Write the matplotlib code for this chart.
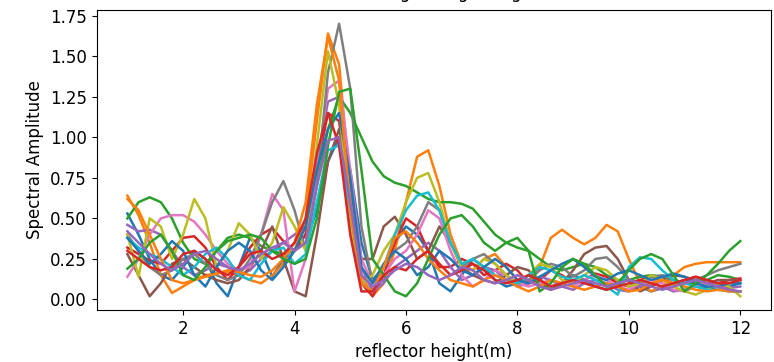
import numpy as np
import matplotlib
matplotlib.use("Agg")
import matplotlib.pyplot as plt

# reflector height grid (m)
heights = np.linspace(1.0, 12.0, 56)

# spectral amplitude per track
amp_blue = [0.53,0.40,0.25,0.15,0.12,0.20,0.30,0.25,0.10,0.02, 0.20,0.38,0.30,0.14,0.25,0.30,0.35,0.55,0.85,1.00,
            0.80,0.35,0.12,0.20,0.35,0.45,0.40,0.30,0.10,0.05, 0.15,0.25,0.20,0.12,0.08,0.10,0.15,0.12,0.08,0.10,
            0.15,0.12,0.08,0.06,0.10,0.12,0.08,0.05,0.07,0.10, 0.12,0.10,0.07,0.06,0.08,0.10]
amp_orange = [0.64,0.52,0.35,0.15,0.04,0.08,0.12,0.15,0.16,0.17, 0.15,0.12,0.10,0.15,0.22,0.30,0.50,1.10,1.64,1.45,
              0.70,0.15,0.02,0.10,0.30,0.60,0.88,0.92,0.70,0.40, 0.22,0.18,0.25,0.28,0.20,0.12,0.10,0.20,0.38,0.43,
              0.38,0.34,0.38,0.46,0.42,0.25,0.10,0.05,0.08,0.15, 0.20,0.22,0.23,0.23,0.23,0.23]
amp_green = [0.50,0.60,0.63,0.60,0.50,0.35,0.25,0.22,0.30,0.38, 0.40,0.38,0.33,0.30,0.28,0.30,0.40,0.70,1.05,1.25,
             1.15,1.00,0.85,0.76,0.72,0.70,0.66,0.62,0.60,0.60, 0.59,0.56,0.48,0.40,0.35,0.32,0.30,0.25,0.20,0.18,
             0.20,0.22,0.20,0.15,0.12,0.12,0.14,0.15,0.14,0.12, 0.10,0.10,0.12,0.15,0.14,0.12]
amp_red = [0.32,0.28,0.24,0.22,0.30,0.38,0.39,0.32,0.20,0.12, 0.20,0.32,0.40,0.44,0.36,0.30,0.40,0.80,1.15,1.10,
           0.55,0.10,0.02,0.15,0.35,0.50,0.45,0.30,0.20,0.20, 0.25,0.22,0.15,0.18,0.22,0.18,0.10,0.12,0.18,0.15,
           0.10,0.12,0.16,0.14,0.10,0.08,0.12,0.14,0.12,0.10, 0.12,0.14,0.12,0.10,0.12,0.13]
amp_purple = [0.46,0.42,0.43,0.40,0.30,0.20,0.15,0.18,0.22,0.20, 0.15,0.18,0.25,0.30,0.35,0.40,0.45,0.85,1.22,1.25,
              0.75,0.20,0.05,0.10,0.20,0.25,0.30,0.35,0.30,0.20, 0.12,0.15,0.20,0.18,0.12,0.08,0.10,0.14,0.12,0.08,
              0.06,0.10,0.12,0.10,0.06,0.05,0.08,0.10,0.08,0.05, 0.06,0.08,0.10,0.09,0.07,0.08]
amp_brown = [0.28,0.15,0.02,0.10,0.22,0.25,0.20,0.15,0.12,0.10, 0.12,0.20,0.30,0.45,0.25,0.05,0.02,0.40,0.85,1.05,
             0.75,0.25,0.25,0.45,0.51,0.40,0.25,0.30,0.45,0.35, 0.20,0.15,0.12,0.10,0.15,0.20,0.18,0.10,0.06,0.10,
             0.18,0.28,0.32,0.33,0.25,0.12,0.05,0.08,0.12,0.15, 0.14,0.12,0.10,0.12,0.12,0.12]
amp_pink = [0.14,0.25,0.40,0.50,0.52,0.52,0.48,0.40,0.30,0.22, 0.18,0.20,0.40,0.65,0.55,0.05,0.25,0.80,1.30,1.35,
            0.80,0.25,0.10,0.15,0.25,0.30,0.40,0.55,0.50,0.30, 0.15,0.08,0.12,0.18,0.15,0.10,0.08,0.10,0.12,0.10,
            0.08,0.12,0.15,0.12,0.08,0.06,0.10,0.12,0.10,0.06, 0.05,0.08,0.10,0.08,0.05,0.05]
amp_gray = [0.40,0.30,0.20,0.15,0.18,0.25,0.28,0.22,0.15,0.12, 0.15,0.25,0.40,0.60,0.73,0.55,0.30,0.70,1.40,1.70,
            1.30,0.45,0.10,0.20,0.30,0.35,0.45,0.60,0.55,0.35, 0.20,0.25,0.28,0.22,0.15,0.10,0.12,0.18,0.22,0.20,
            0.14,0.18,0.25,0.26,0.20,0.12,0.10,0.14,0.15,0.12, 0.10,0.12,0.15,0.18,0.20,0.22]
amp_olive = [0.40,0.14,0.50,0.45,0.25,0.40,0.62,0.50,0.20,0.30, 0.47,0.40,0.25,0.35,0.57,0.45,0.30,0.95,1.53,1.20,
             0.45,0.10,0.15,0.30,0.40,0.60,0.75,0.78,0.60,0.35, 0.20,0.18,0.25,0.22,0.15,0.10,0.15,0.22,0.20,0.12,
             0.10,0.15,0.20,0.18,0.12,0.08,0.10,0.15,0.12,0.08, 0.05,0.03,0.06,0.10,0.08,0.02]
amp_cyan = [0.38,0.32,0.28,0.25,0.20,0.15,0.20,0.28,0.32,0.25, 0.15,0.12,0.22,0.30,0.32,0.22,0.28,0.60,0.92,0.95,
            0.55,0.10,0.05,0.20,0.40,0.55,0.64,0.66,0.55,0.35, 0.22,0.25,0.20,0.15,0.12,0.10,0.15,0.20,0.18,0.14,
            0.12,0.15,0.12,0.08,0.03,0.20,0.26,0.25,0.18,0.12, 0.10,0.08,0.06,0.06,0.05,0.05]
amp_blue2 = [0.38,0.30,0.22,0.28,0.36,0.30,0.15,0.08,0.20,0.30, 0.35,0.30,0.18,0.12,0.20,0.30,0.45,0.80,1.05,1.15,
             0.75,0.20,0.10,0.22,0.30,0.25,0.15,0.20,0.30,0.25, 0.18,0.15,0.20,0.25,0.20,0.12,0.10,0.14,0.18,0.22,
             0.25,0.20,0.14,0.12,0.16,0.18,0.15,0.12,0.14,0.16, 0.14,0.10,0.08,0.08,0.10,0.10]
amp_orange2 = [0.62,0.55,0.40,0.25,0.12,0.10,0.12,0.14,0.16,0.18, 0.17,0.15,0.14,0.18,0.25,0.35,0.60,1.20,1.62,1.35,
               0.55,0.10,0.05,0.20,0.38,0.42,0.35,0.25,0.18,0.12, 0.10,0.08,0.12,0.15,0.12,0.08,0.05,0.08,0.12,0.10,
               0.08,0.06,0.08,0.10,0.08,0.05,0.06,0.10,0.12,0.10, 0.08,0.06,0.05,0.06,0.05,0.05]
amp_green2 = [0.19,0.25,0.35,0.40,0.30,0.15,0.12,0.20,0.30,0.36, 0.38,0.40,0.38,0.30,0.25,0.22,0.25,0.50,0.95,1.28,
              1.30,0.80,0.25,0.15,0.05,0.02,0.10,0.25,0.40,0.50, 0.52,0.45,0.35,0.30,0.35,0.38,0.30,0.05,0.10,0.20,
              0.25,0.22,0.15,0.08,0.10,0.18,0.25,0.28,0.25,0.15, 0.05,0.10,0.15,0.22,0.30,0.36]
amp_red2 = [0.30,0.25,0.20,0.18,0.20,0.28,0.30,0.25,0.18,0.15, 0.20,0.28,0.30,0.25,0.28,0.35,0.50,0.90,1.15,0.95,
            0.40,0.05,0.05,0.15,0.20,0.18,0.25,0.30,0.22,0.15, 0.18,0.22,0.18,0.12,0.10,0.12,0.15,0.12,0.08,0.10,
            0.12,0.10,0.08,0.06,0.08,0.10,0.12,0.10,0.08,0.10, 0.12,0.14,0.12,0.10,0.10,0.12]
amp_purple2 = [0.42,0.35,0.28,0.22,0.18,0.22,0.28,0.30,0.25,0.20, 0.18,0.22,0.28,0.32,0.35,0.30,0.35,0.70,0.98,1.00,
               0.60,0.15,0.08,0.12,0.18,0.22,0.20,0.15,0.12,0.15, 0.20,0.18,0.12,0.10,0.12,0.15,0.12,0.08,0.06,0.08,
               0.10,0.12,0.10,0.08,0.10,0.12,0.10,0.08,0.06,0.08, 0.10,0.12,0.10,0.08,0.06,0.05]

tracks = [amp_blue, amp_orange, amp_green, amp_red, amp_purple, amp_brown, amp_pink,
          amp_gray, amp_olive, amp_cyan, amp_blue2, amp_orange2, amp_green2, amp_red2, amp_purple2]

fig = plt.figure(figsize=(7.74, 3.62), dpi=100)
ax = fig.add_axes([0.125, 0.144, 0.871, 0.828])

for amp in tracks:
    ax.plot(heights, amp, lw=1.8)

# the title sits mostly above the top edge, as in the reference crop
ax.set_title("Elevation angle range (deg 5-25)", fontsize=12, pad=9)
ax.set_xlabel("reflector height(m)", fontsize=12)
ax.set_ylabel("Spectral Amplitude", fontsize=12)
ax.tick_params(labelsize=12)
ax.set_yticks([0.0, 0.25, 0.5, 0.75, 1.0, 1.25, 1.5, 1.75])

fig.savefig("out.png", dpi=100)
